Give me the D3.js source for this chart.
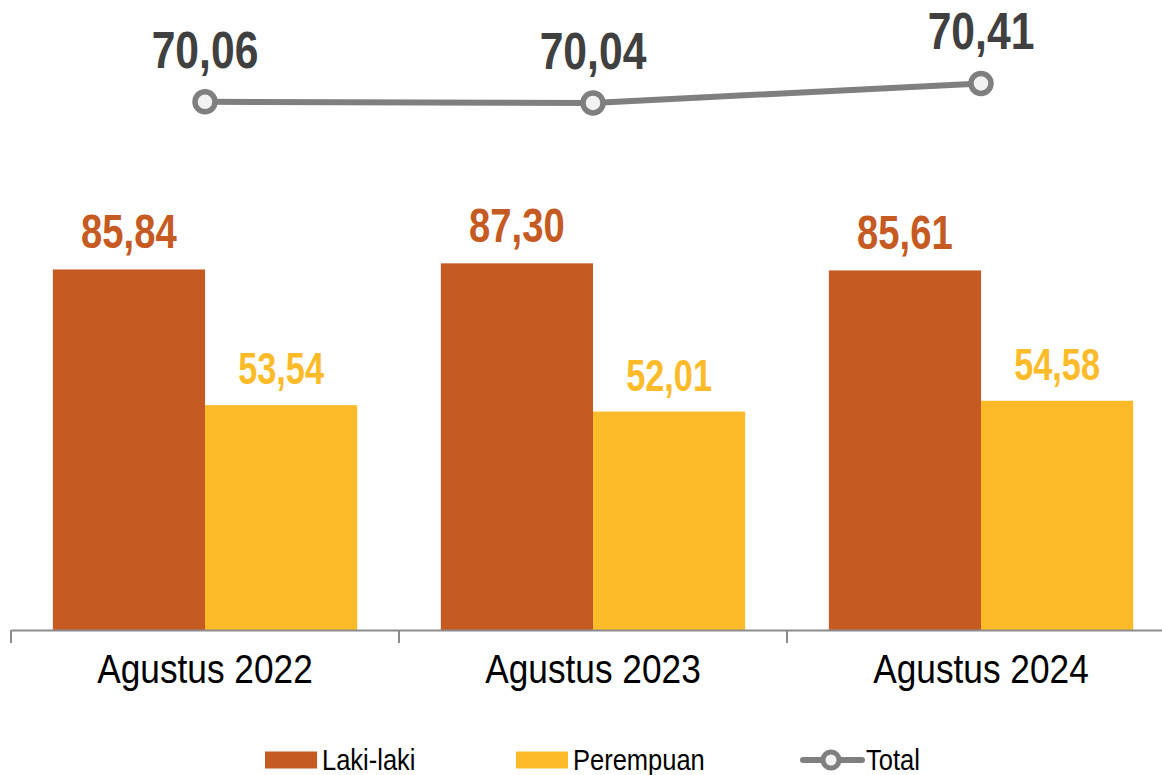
<!DOCTYPE html>
<html>
<head>
<meta charset="utf-8">
<script src="https://cdn.jsdelivr.net/npm/d3@7"></script>
<style>
  body { margin: 0; background: #fff; }
  svg { display: block; font-family: "Liberation Sans Narrow", "Arial Narrow", "Liberation Sans", Arial, sans-serif; }
</style>
</head>
<body>
<div id="chart"></div>
<script>
// data
const categories = ["Agustus 2022", "Agustus 2023", "Agustus 2024"];
const seriesNames = ["Laki-laki", "Perempuan"];
const lakiLaki = [85.84, 87.30, 85.61];
const perempuan = [53.54, 52.01, 54.58];
const total = [70.06, 70.04, 70.41];

const colors = { "Laki-laki": "#C55A22", "Perempuan": "#FDBB2A" };
const lineColor = "#7F7F7F";
const fmt = v => d3.format(".2f")(v).replace(".", ",");

const width = 1162;
const height = 775;
const baseY = 630;

// no narrow font installed, so squeeze text horizontally
const squeeze = (sel, x, y, s) => sel.attr("x", 0).attr("y", 0)
  .attr("transform", `translate(${x},${y}) scale(${s},1)`);

const svg = d3.select("#chart")
  .append("svg")
  .attr("width", width)
  .attr("height", height);

// band per year
const x = d3.scaleBand()
  .domain(categories)
  .range([11, 1175])
  .padding(0);

// bars inside each band
const x1 = d3.scaleBand()
  .domain(seriesNames)
  .range([0, x.bandwidth()])
  .paddingInner(0)
  .paddingOuter(0.275);

// primary axis for the bars
const y = d3.scaleLinear().domain([0, 150]).range([baseY, 0]);
// secondary axis for the total line
const y2 = d3.scaleLinear().domain([60, 72]).range([baseY, 0]);

const rows = categories.map((c, i) => ({
  cat: c,
  values: [
    { key: "Laki-laki", value: lakiLaki[i] },
    { key: "Perempuan", value: perempuan[i] }
  ]
}));

// grouped bars
const groups = svg.append("g")
  .selectAll("g")
  .data(rows)
  .join("g")
  .attr("transform", d => `translate(${x(d.cat)},0)`);

groups.selectAll("rect")
  .data(d => d.values)
  .join("rect")
  .attr("x", d => x1(d.key))
  .attr("y", d => y(d.value))
  .attr("width", x1.bandwidth())
  .attr("height", d => baseY - y(d.value))
  .attr("fill", d => colors[d.key]);

// bar labels
groups.selectAll("text")
  .data(d => d.values)
  .join("text")
  .attr("text-anchor", "middle")
  .attr("font-weight", "bold")
  .attr("font-size", d => d.key === "Laki-laki" ? 49 : 44)
  .attr("fill", d => colors[d.key])
  .text(d => fmt(d.value))
  .each(function(d) {
    squeeze(d3.select(this), x1(d.key) + x1.bandwidth() / 2, y(d.value) - 21, 0.78);
  });

// x axis
const xAxis = svg.append("g")
  .attr("transform", `translate(0,${baseY})`)
  .call(d3.axisBottom(x).tickSize(0));
xAxis.select(".domain").attr("stroke", "#8C8C8C").attr("stroke-width", 2);
xAxis.selectAll(".tick text")
  .attr("font-size", 41)
  .attr("font-family", "inherit")
  .attr("fill", "#000")
  .attr("dy", null)
  .attr("x", 0)
  .attr("y", 53)
  .attr("transform", "scale(0.86,1)");

// tick marks on band edges
const edges = categories.map(c => x(c)).concat([x(categories[2]) + x.bandwidth()]);
svg.append("g")
  .selectAll("line")
  .data(edges)
  .join("line")
  .attr("x1", d => d)
  .attr("x2", d => d)
  .attr("y1", baseY)
  .attr("y2", baseY + 13)
  .attr("stroke", "#8C8C8C")
  .attr("stroke-width", 2);

// total line
const linePts = categories.map((c, i) => ({ cat: c, value: total[i] }));
const line = d3.line()
  .x(d => x(d.cat) + x.bandwidth() / 2)
  .y(d => y2(d.value));

svg.append("path")
  .datum(linePts)
  .attr("fill", "none")
  .attr("stroke", lineColor)
  .attr("stroke-width", 6)
  .attr("d", line);

svg.append("g")
  .selectAll("circle")
  .data(linePts)
  .join("circle")
  .attr("cx", d => x(d.cat) + x.bandwidth() / 2)
  .attr("cy", d => y2(d.value))
  .attr("r", 10)
  .attr("fill", "#F2F2F2")
  .attr("stroke", lineColor)
  .attr("stroke-width", 5.5);

svg.append("g")
  .selectAll("text")
  .data(linePts)
  .join("text")
  .attr("text-anchor", "middle")
  .attr("font-weight", "bold")
  .attr("font-size", 52)
  .attr("fill", "#404040")
  .text(d => fmt(d.value))
  .each(function(d) {
    squeeze(d3.select(this), x(d.cat) + x.bandwidth() / 2, y2(d.value) - 34, 0.82);
  });

// legend
const legendY = 760;
const legend = svg.append("g");
const legendItems = [
  { name: "Laki-laki", x: 265, type: "rect" },
  { name: "Perempuan", x: 516, type: "rect" },
  { name: "Total", x: 803, type: "line" }
];
legendItems.forEach(it => {
  let tx;
  if (it.type === "rect") {
    legend.append("rect")
      .attr("x", it.x)
      .attr("y", legendY - 8.5)
      .attr("width", 52)
      .attr("height", 17)
      .attr("fill", colors[it.name]);
    tx = it.x + 57;
  } else {
    legend.append("line")
      .attr("x1", it.x)
      .attr("x2", it.x + 59)
      .attr("y1", legendY)
      .attr("y2", legendY)
      .attr("stroke", lineColor)
      .attr("stroke-width", 6)
      .attr("stroke-linecap", "round");
    legend.append("circle")
      .attr("cx", it.x + 28)
      .attr("cy", legendY)
      .attr("r", 8)
      .attr("fill", "#F2F2F2")
      .attr("stroke", lineColor)
      .attr("stroke-width", 5);
    tx = it.x + 63;
  }
  const t = legend.append("text")
    .attr("font-size", 30)
    .attr("fill", "#000")
    .text(it.name);
  squeeze(t, tx, legendY + 10, 0.85);
});
</script>
</body>
</html>
